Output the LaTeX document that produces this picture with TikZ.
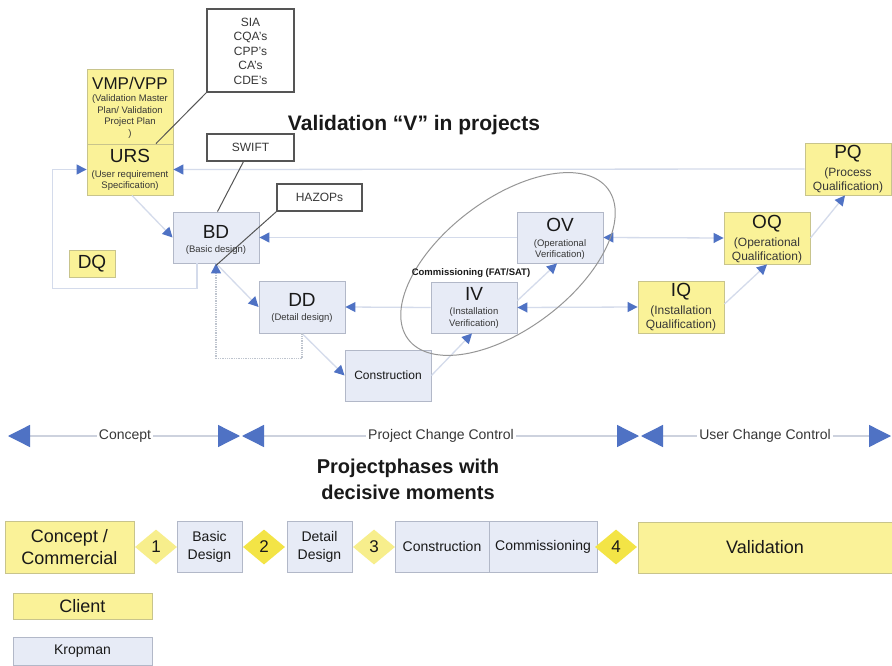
\documentclass[tikz,border=0pt]{standalone}
\usepackage{fontspec}
\setmainfont{Liberation Sans}
\usetikzlibrary{arrows.meta,shapes.geometric}

\definecolor{ylw}{RGB}{250,242,152}
\definecolor{ybord}{RGB}{200,196,140}
\definecolor{blu}{RGB}{231,235,246}
\definecolor{bbord}{RGB}{178,184,200}
\definecolor{wbord}{RGB}{85,85,85}
\definecolor{lnclr}{RGB}{212,219,235}
\definecolor{dotclr}{RGB}{190,196,206}
\definecolor{arrblue}{RGB}{79,114,196}
\definecolor{ellclr}{RGB}{150,150,150}
\definecolor{txt}{RGB}{25,25,25}
\definecolor{subtxt}{RGB}{55,55,55}
\definecolor{dpale}{RGB}{247,238,140}
\definecolor{dbright}{RGB}{243,228,70}
\definecolor{tlline}{RGB}{205,210,222}

\begin{document}
\begin{tikzpicture}[x=1pt,y=-1pt,
  every node/.style={inner sep=0pt, text=txt},
  ybox/.style={draw=ybord, fill=ylw, line width=0.9pt},
  bbox/.style={draw=bbord, fill=blu, line width=0.9pt},
  wbox/.style={draw=wbord, fill=white, line width=1.1pt},
  big/.style={font=\fontsize{19}{19}\selectfont},
  small/.style={font=\fontsize{9.5}{11.5}\selectfont, align=center, text=subtxt},
  mid/.style={font=\fontsize{12}{14}\selectfont, align=center, text=subtxt},
  note/.style={font=\fontsize{12}{14.5}\selectfont, align=center, text=subtxt},
  conn/.style={draw=lnclr, line width=1.3pt},
  annot/.style={draw=wbord, line width=1pt},
  bt/.tip={Triangle[length=10pt,width=10pt,color=arrblue]},
  bigtip/.tip={Triangle[length=22pt,width=22pt,color=arrblue]},
  milestone/.style={diamond, minimum width=42pt, minimum height=35pt,
    font=\fontsize{17}{17}\selectfont},
  phase/.style={font=\fontsize{14}{18}\selectfont, align=center},
  tllabel/.style={fill=white, inner xsep=2pt, inner ysep=1pt,
    font=\fontsize{14}{14}\selectfont, text=subtxt}
]
\useasboundingbox[fill=white] (0,0) rectangle (892,666);

% ---------- V-model boxes ----------
\node[ybox, minimum width=86pt, minimum height=75pt] (vmp) at (130,106.5) {};
\node[ybox, minimum width=86pt, minimum height=51pt] (urs) at (130,169.5) {};
\node[wbox, minimum width=87pt, minimum height=83pt] (sia) at (250.5,50.5) {};
\node[wbox, minimum width=87pt, minimum height=27pt] (swift) at (250.5,147.5) {};
\node[wbox, minimum width=85pt, minimum height=27pt] (hazops) at (319.5,197.5) {};
\node[bbox, minimum width=86pt, minimum height=51pt] (bd) at (216,237.5) {};
\node[bbox, minimum width=86pt, minimum height=52pt] (dd) at (302,307) {};
\node[bbox, minimum width=86pt, minimum height=51pt] (con) at (388,375.5) {};
\node[bbox, minimum width=86pt, minimum height=51pt] (iv) at (474,307.5) {};
\node[bbox, minimum width=86pt, minimum height=51pt] (ov) at (560,237.5) {};
\node[ybox, minimum width=86pt, minimum height=52pt] (iq) at (681,307) {};
\node[ybox, minimum width=86pt, minimum height=52pt] (oq) at (767,238) {};
\node[ybox, minimum width=86pt, minimum height=52pt] (pq) at (848,169) {};
\node[ybox, minimum width=46pt, minimum height=27pt, big] (dq) at (92,263.5) {DQ};

% ---------- connectors ----------
\draw[conn, -bt] (pq.west) -- (urs.east);
\coordinate (loopL) at ([xshift=-34pt]urs.west);
\draw[conn, -bt] ([xshift=-19pt]bd.south) -- ++(0,25) -| (loopL) -- (urs.west);
\draw[conn, -bt] ([xshift=2pt]urs.south) -- (bd.west);
\draw[conn, -bt] (ov.west) -- (bd.east);
\draw[conn, bt-bt] (ov.east) -- (oq.west);
\draw[conn, -bt] (iv.west) -- (dd.east);
\draw[conn, bt-bt] (iv.east) -- (iq.west);
\draw[conn, -bt] (bd.south) -- (dd.west);
\draw[conn, -bt] (dd.south) -- (con.west);
\draw[conn, draw=dotclr, densely dotted, -bt] (dd.south) -- ++(0,25) -| (bd.south);
\draw[conn, -bt] (con.east) -- ([xshift=-2pt]iv.south);
\draw[conn, -bt] ([yshift=7pt]iv.east) -- ([xshift=-3pt]ov.south);
\draw[conn, -bt] ([yshift=3pt]iq.east) -- (oq.south);
\draw[conn, -bt] (oq.east) -- ([xshift=-3pt]pq.south);

% commissioning scope
\node[draw=ellclr, line width=1pt, ellipse, rotate=37,
      minimum width=250pt, minimum height=130pt] (cmm) at (508,264) {};
\node[font=\bfseries\fontsize{9.5}{9.5}\selectfont] (cmmlbl) at (471,273) {Commissioning (FAT/SAT)};

% annotation leaders
\draw[annot] (sia.south west) -- ([xshift=26pt]urs.north);
\draw[annot] ([xshift=-7pt]swift.south) -- ([xshift=1.5pt]bd.north);
\draw[annot] (hazops.south west) -- ([yshift=-2pt]bd.south);

% ---------- box texts ----------
\node[font=\fontsize{17}{17}\selectfont] (vmp-t) at (130,83) {VMP/VPP};
\node[small] (vmp-s) at (130,116.5) {(Validation Master\\Plan/ Validation\\Project Plan\\)};
\node[big] (urs-t) at (130,156) {URS};
\node[small] (urs-s) at (130,180.5) {(User requirement\\Specification)};
\node[note] (sia-t) at (250.5,51) {SIA\\CQA’s\\CPP’s\\CA’s\\CDE’s};
\node[note] (swift-t) at (250.5,147.5) {SWIFT};
\node[note] (hazops-t) at (319.5,197.5) {HAZOPs};
\node[big] (bd-t) at (216,231.5) {BD};
\node[small] (bd-s) at (216,250) {(Basic design)};
\node[big] (dd-t) at (302,300) {DD};
\node[small] (dd-s) at (302,318) {(Detail design)};
\node[font=\fontsize{12}{12}\selectfont] (con-t) at (388,375.5) {Construction};
\node[big] (iv-t) at (474,293.5) {IV};
\node[small] (iv-s) at (474,318) {(Installation\\Verification)};
\node[big] (ov-t) at (560,225) {OV};
\node[small] (ov-s) at (560,249.5) {(Operational\\Verification)};
\node[big] (iq-t) at (681,291.5) {IQ};
\node[mid] (iq-s) at (681,318.5) {(Installation\\Qualification)};
\node[big] (oq-t) at (767,223.5) {OQ};
\node[mid] (oq-s) at (767,250) {(Operational\\Qualification)};
\node[big] (pq-t) at (848,153.5) {PQ};
\node[mid] (pq-s) at (848,180) {(Process\\Qualification)};

% title
\node[font=\bfseries\fontsize{21}{21}\selectfont] (title) at (414,125) {Validation “V” in projects};

% ---------- change-control timeline ----------
\coordinate (t0) at (8,436);
\coordinate (t1) at (240,436);
\coordinate (t2) at (242,436);
\coordinate (t3) at (639,436);
\coordinate (t4) at (641,436);
\coordinate (t5) at (891,436);
\draw[draw=tlline, line width=1.3pt, bigtip-bigtip] (t0) -- (t1);
\draw[draw=tlline, line width=1.3pt, bigtip-bigtip] (t2) -- (t3);
\draw[draw=tlline, line width=1.3pt, bigtip-bigtip] (t4) -- (t5);
\node[tllabel] (tl1) at (125,436) {Concept};
\node[tllabel] (tl2) at (441,436) {Project Change Control};
\node[tllabel] (tl3) at (765,436) {User Change Control};

% subtitle
\node[font=\bfseries\fontsize{20}{26}\selectfont, align=center] (subtitle) at (408,479)
  {Projectphases with\\decisive moments};

% ---------- project phases ----------
\node[ybox, minimum width=129pt, minimum height=52pt, font=\fontsize{18}{22}\selectfont, align=center]
  (cc) at (69.5,547) {Concept /\\Commercial};
\node[bbox, minimum width=65pt, minimum height=51pt, phase] (bd2) at (209.5,546.5) {Basic\\Design};
\node[bbox, minimum width=65pt, minimum height=51pt, phase] (dd2) at (319.5,546.5) {Detail\\Design};
\node[bbox, minimum width=94pt, minimum height=51pt, phase] (con2) at (442,546.5) {Construction};
\node[bbox, minimum width=108pt, minimum height=51pt, phase] (com2) at (543,546.5) {Commissioning};
\node[ybox, minimum width=254pt, minimum height=51pt, font=\fontsize{18}{18}\selectfont]
  (val) at (765,547.5) {Validation};
\node[milestone, fill=dpale] (m1) at (156,547) {1};
\node[milestone, fill=dbright] (m2) at (264,547) {2};
\node[milestone, fill=dpale] (m3) at (374,547) {3};
\node[milestone, fill=dbright] (m4) at (616,547) {4};

% legend
\node[ybox, minimum width=139pt, minimum height=26pt, font=\fontsize{18}{18}\selectfont]
  (client) at (82.5,606) {Client};
\node[bbox, minimum width=139pt, minimum height=28pt, font=\fontsize{14}{14}\selectfont]
  (kropman) at (82.5,651) {Kropman};
\end{tikzpicture}
\end{document}
